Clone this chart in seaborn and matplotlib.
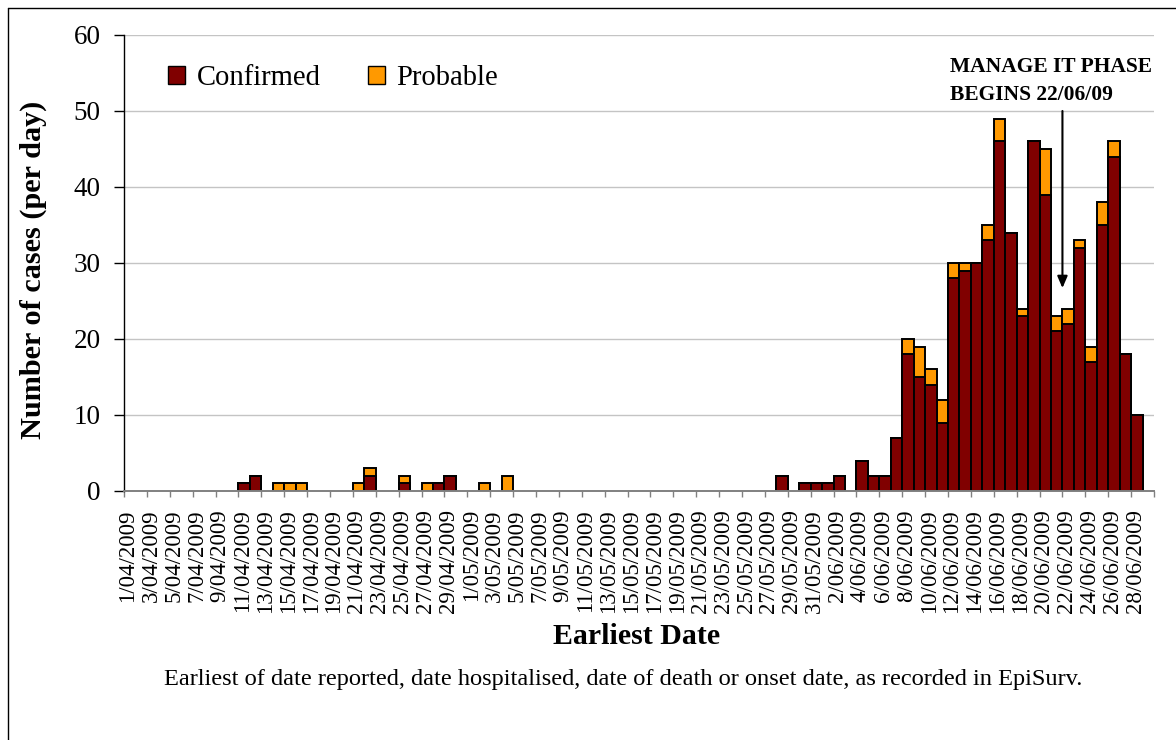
import numpy as np
import pandas as pd
import matplotlib
matplotlib.use("Agg")
import matplotlib.pyplot as plt
from matplotlib.patches import Patch
from matplotlib.lines import Line2D
import seaborn as sns

# Daily counts, 1 April 2009 to 29 June 2009
days = pd.date_range("2009-04-01", "2009-06-29", freq="D")
date_labels = [f"{d.day}/{d.month:02d}/{d.year}" for d in days]

confirmed = [
    0, 0, 0, 0, 0, 0, 0, 0, 0, 0,
    1, 2, 0, 0, 0, 0, 0, 0, 0, 0,
    0, 2, 0, 0, 1, 0, 0, 1, 2, 0,
    0, 0, 0, 0, 0, 0, 0, 0, 0, 0,
    0, 0, 0, 0, 0, 0, 0, 0, 0, 0,
    0, 0, 0, 0, 0, 0, 0, 2, 0, 1,
    1, 1, 2, 0, 4, 2, 2, 7, 18, 15,
    14, 9, 28, 29, 30, 33, 46, 34, 23, 46,
    39, 21, 22, 32, 17, 35, 44, 18, 10, 0,
]
probable = [
    0, 0, 0, 0, 0, 0, 0, 0, 0, 0,
    0, 0, 0, 1, 1, 1, 0, 0, 0, 0,
    1, 1, 0, 0, 1, 0, 1, 0, 0, 0,
    0, 1, 0, 2, 0, 0, 0, 0, 0, 0,
    0, 0, 0, 0, 0, 0, 0, 0, 0, 0,
    0, 0, 0, 0, 0, 0, 0, 0, 0, 0,
    0, 0, 0, 0, 0, 0, 0, 0, 2, 4,
    2, 3, 2, 1, 0, 2, 3, 0, 1, 0,
    6, 2, 2, 1, 2, 3, 2, 0, 0, 0,
]

phase_date = "22/06/2009"
phase_text = "MANAGE IT PHASE\nBEGINS 22/06/09"
y_ticks = [0, 10, 20, 30, 40, 50, 60]

df = pd.DataFrame({"date": date_labels, "Confirmed": confirmed, "Probable": probable})
df["Total"] = df["Confirmed"] + df["Probable"]

CONF_COL = "#800000"
PROB_COL = "#FF9900"

sns.set_style("white")
plt.rcParams["font.family"] = ["Liberation Serif", "DejaVu Serif"]
plt.rcParams["text.color"] = "black"
plt.rcParams["axes.labelcolor"] = "black"
plt.rcParams["xtick.color"] = "black"
plt.rcParams["ytick.color"] = "black"

W, H = 1176, 740
fig = plt.figure(figsize=(W / 100, H / 100), dpi=100)
ax = fig.add_axes([124 / W, 1 - 491 / H, 1030 / W, 456 / H])

# Stacked bars: total (probable on top) first, confirmed drawn over it
sns.barplot(data=df, x="date", y="Total", order=date_labels, color=PROB_COL,
            saturation=1, width=1.0, edgecolor="black", linewidth=1.4,
            errorbar=None, ax=ax)
sns.barplot(data=df, x="date", y="Confirmed", order=date_labels, color=CONF_COL,
            saturation=1, width=1.0, edgecolor="black", linewidth=1.4,
            errorbar=None, ax=ax)
for p in ax.patches:
    if p.get_height() == 0:
        p.set_linewidth(0)

ax.set_xlim(-0.5, len(date_labels) - 0.5)
ax.set_ylim(0, 60)
ax.set_yticks(y_ticks)
ax.set_yticklabels([str(v) for v in y_ticks], fontsize=19.5)
ax.grid(axis="y", color="#c4c4c4", linewidth=1.0)
ax.set_axisbelow(True)

# Category labels every second day, tick marks between categories
label_pos = np.arange(0, len(date_labels), 2)
ax.set_xticks(label_pos - 0.15)
ax.set_xticklabels([date_labels[i] for i in label_pos], rotation=90, fontsize=16.5)
ax.tick_params(axis="x", which="major", length=0, pad=13)
ax.set_xticks(np.arange(-0.5, len(date_labels), 2), minor=True)
ax.tick_params(axis="x", which="minor", length=4.5, width=1, color="#808080",
               direction="out", bottom=True)
ax.tick_params(axis="y", which="major", length=7, width=1, color="black",
               direction="out", left=True, pad=10)

for s in ["top", "right"]:
    ax.spines[s].set_visible(False)
ax.spines["left"].set_color("black")
ax.spines["left"].set_linewidth(1.0)
ax.spines["bottom"].set_color("#808080")
ax.spines["bottom"].set_linewidth(1.4)

ax.set_ylabel("Number of cases (per day)", fontsize=21.8, fontweight="bold")
ax.yaxis.set_label_coords(-0.075, 0.485)
ax.set_xlabel("Earliest Date", fontsize=21.5, fontweight="bold")
ax.xaxis.set_label_coords(0.498, -0.29)

fig.text(623 / W, 1 - 685 / H,
         "Earliest of date reported, date hospitalised, date of death or onset date, as recorded in EpiSurv.",
         ha="center", va="baseline", fontsize=17.6)

# Legend
handles = [Patch(facecolor=CONF_COL, edgecolor="black", linewidth=1.0, label="Confirmed"),
           Patch(facecolor=PROB_COL, edgecolor="black", linewidth=1.0, label="Probable")]
ax.legend(handles=handles, loc="center left", bbox_to_anchor=(168 / W, 1 - 78 / H),
          bbox_transform=fig.transFigure, ncol=2, frameon=False, fontsize=20.6,
          handlelength=0.6, handleheight=0.6, handletextpad=0.4, columnspacing=1.65,
          borderpad=0, borderaxespad=0)

# Phase marker arrow and note
px = date_labels.index(phase_date) - 0.5
ax.annotate("", xy=(px, 26.7), xytext=(px, 50),
            arrowprops=dict(arrowstyle="-|>,head_length=0.7,head_width=0.3",
                            color="black", lw=1.5, shrinkA=0, shrinkB=0,
                            mutation_scale=10))
ax.text(71.7, 57.1, phase_text, ha="left", va="top", fontsize=15.5,
        fontweight="bold", linespacing=1.55)

# Outer frame
fig.add_artist(Line2D([8 / W, 8 / W], [0, 1 - 8 / H], transform=fig.transFigure,
                      color="black", linewidth=1.0))
fig.add_artist(Line2D([8 / W, 1], [1 - 8 / H, 1 - 8 / H], transform=fig.transFigure,
                      color="black", linewidth=1.0))

fig.savefig("out.png", dpi=100)
